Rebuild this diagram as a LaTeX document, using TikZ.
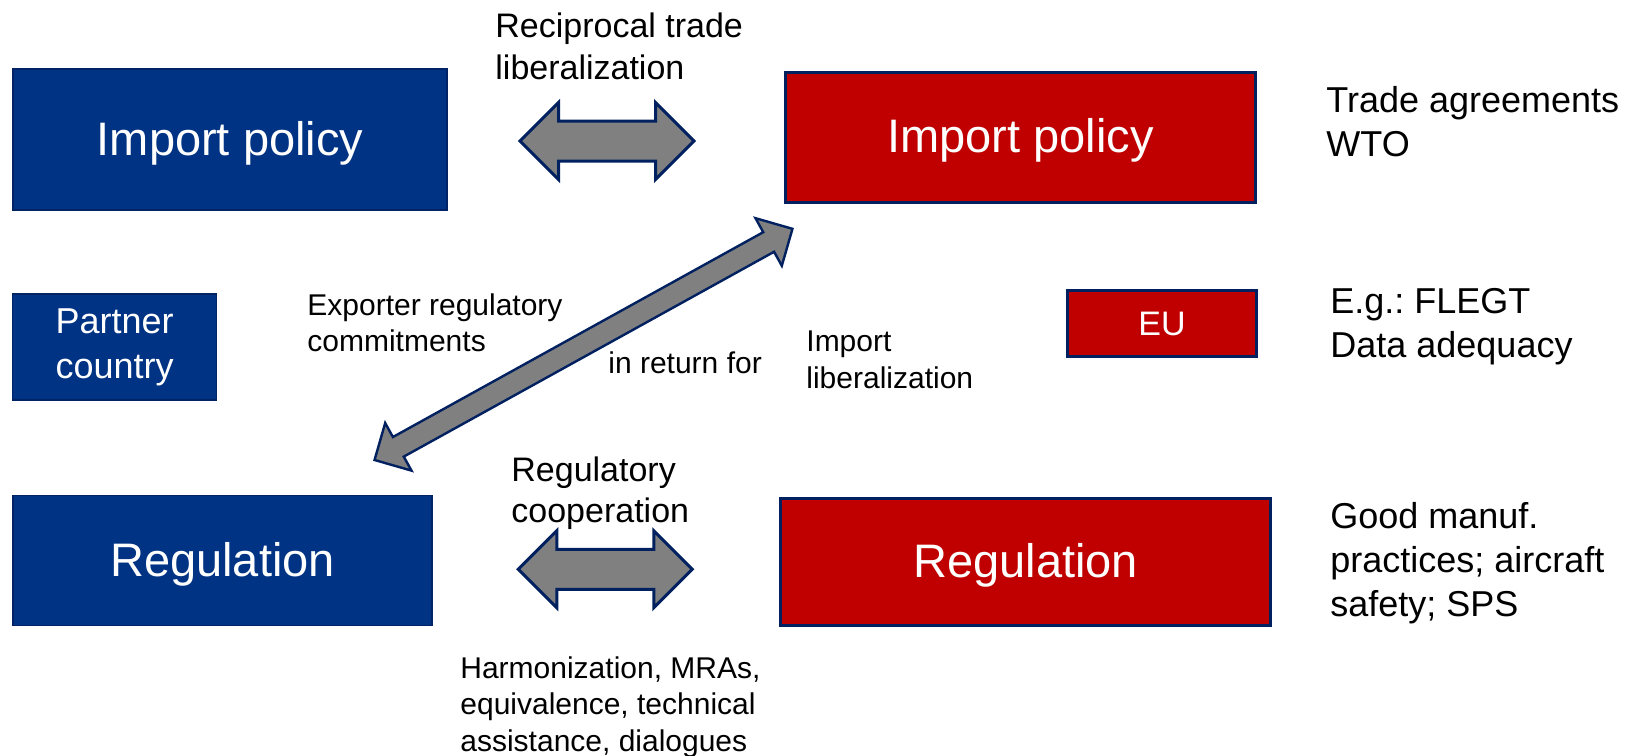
\documentclass[tikz,border=0pt]{standalone}
\usepackage{fontspec}
\setmainfont{Liberation Sans}
\usepackage{tikz}
\usetikzlibrary{shapes.arrows}
\definecolor{trblue}{HTML}{003383}
\definecolor{trred}{HTML}{C00000}
\definecolor{trline}{HTML}{002060}
\definecolor{trgrey}{HTML}{808080}
\tikzset{
  trbox/.style   = {align=center, text=white, inner sep=0pt,
                    fill=trblue, draw=trline!85!trblue, line width=0.6pt},
  treubox/.style = {trbox, fill=trred, draw=trline, line width=1.5pt},
  trbig/.style   = {font=\fontsize{23.5}{28}\selectfont,
                    text height=17pt, text depth=1.5pt},
  trwide/.style  = {double arrow, draw=trline, fill=trgrey,
                    inner xsep=0pt, inner ysep=9.25pt,
                    line width=1.5pt, minimum width=37pt,
                    double arrow head extend=9.25pt, minimum height=87pt},
  trlink/.style  = {trwide, line width=1.2pt, inner ysep=5pt,
                    minimum width=26pt, double arrow head extend=8pt},
  trnote/.style  = {anchor=north west, align=left, inner sep=0pt},
  trside/.style  = {trnote, font=\fontsize{18}{22}\selectfont},
}

\begin{document}
\frenchspacing
\begin{tikzpicture}[x=0.5pt, y=-0.5pt]
  \useasboundingbox (0,0) rectangle (1642,755);
  % partner country, left column
  \node[trbox, trbig, minimum width=217pt, minimum height=70.5pt]
       (ptnimport) at (230,139.5) {Import policy};
  \node[trbox, font=\fontsize{18}{22.5}\selectfont,
        minimum width=102pt, minimum height=53pt]
       (ptn) at (114.7,347) {Partner\\country};
  \node[trbox, trbig, minimum width=209.5pt, minimum height=65pt]
       (ptnreg) at (222.5,560.7) {Regulation};
  % EU, right column
  \node[treubox, trbig, minimum width=235pt, minimum height=65pt]
       (euimport) at (1020.5,137.3) {Import policy};
  \node[treubox, font=\fontsize{17}{20}\selectfont,
        minimum width=94.5pt, minimum height=33pt]
       (eu) at (1162,323.5) {EU};
  \node[treubox, trbig, minimum width=245pt, minimum height=63.5pt]
       (eureg) at (1025.6,562) {Regulation};
  % block arrows
  \node[trwide] (tradelink) at (607,141) {};
  \node[trwide] (reglink) at (605.3,569.3) {};
  \node[trlink, minimum height=238.8pt, rotate=28.95]
       (deal) at (583.5,344.4) {};
  % labels
  \node[trnote, font=\fontsize{17}{21}\selectfont]
       (recip) at (495,12) {Reciprocal trade\\liberalization};
  \node[trnote, font=\fontsize{15}{18}\selectfont]
       (commit) at (307,293.4) {Exporter regulatory\\commitments};
  \node[trnote, font=\fontsize{15}{18}\selectfont]
       (inreturn) at (608,351.7) {in return for};
  \node[trnote, font=\fontsize{15}{18.5}\selectfont]
       (implib) at (806,330.5) {Import\\liberalization};
  \node[trnote, font=\fontsize{17}{20.5}\selectfont]
       (regcoop) at (511,456) {Regulatory\\cooperation};
  \node[trnote, font=\fontsize{15}{18.3}\selectfont]
       (harmon) at (460,656)
       {Harmonization, MRAs,\\equivalence, technical\\assistance, dialogues};
  \node[trside] (wto) at (1326,85.8) {Trade agreements\\WTO};
  \node[trside] (flegt) at (1330,287.5) {E.g.: FLEGT\\Data adequacy};
  \node[trside] (gmp) at (1330,502) {Good manuf.\\practices; aircraft\\safety; SPS};
\end{tikzpicture}
\end{document}
